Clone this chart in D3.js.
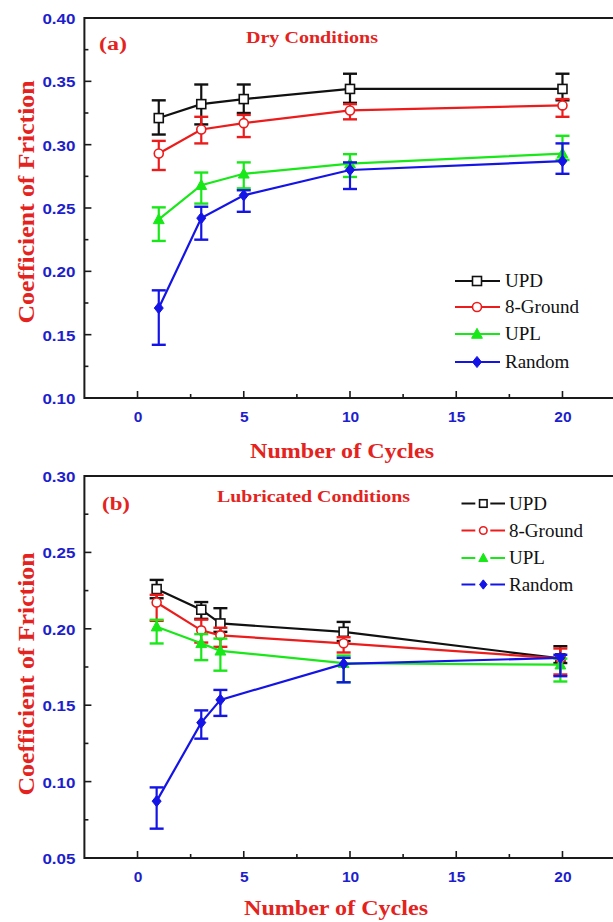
<!DOCTYPE html>
<html><head><meta charset="utf-8">
<script src="https://cdn.jsdelivr.net/npm/d3@7"></script>
<style>body{margin:0;background:#fff}svg{display:block}</style>
</head><body>
<script>
// ---------- data ----------
const seriesNames = ["UPD", "8-Ground", "UPL", "Random"];
const xTicks = [0, 5, 10, 15, 20];

// Panel (a): dry conditions
const cyclesA = [1, 3, 5, 10, 20];
const updA = [0.321, 0.332, 0.336, 0.344, 0.344];
const updAErr = [[0.013, 0.014], [0.016, 0.0155], [0.011, 0.0115], [0.011, 0.012], [0.009, 0.012]];
const groundA = [0.293, 0.312, 0.317, 0.327, 0.331];
const groundAErr = [[0.013, 0.010], [0.011, 0.010], [0.011, 0.0065], [0.007, 0.005], [0.009, 0.005]];
const uplA = [0.241, 0.268, 0.277, 0.285, 0.293];
const uplAErr = [[0.017, 0.0095], [0.0145, 0.010], [0.0115, 0.009], [0.0105, 0.0075], [0.005, 0.014]];
const randomA = [0.171, 0.242, 0.260, 0.280, 0.287];
const randomAErr = [[0.029, 0.014], [0.017, 0.009], [0.013, 0.004], [0.015, 0.006], [0.010, 0.014]];
const yTicksA = [0.10, 0.15, 0.20, 0.25, 0.30, 0.35, 0.40];

// Panel (b): lubricated conditions
const cyclesB = [0.9, 3, 3.9, 9.7, 19.9];
const updB = [0.226, 0.2125, 0.2035, 0.198, 0.1806];
const updBErr = [[0.006, 0.006], [0.006, 0.005], [0.0055, 0.010], [0.006, 0.0065], [0.003, 0.008]];
const groundB = [0.2172, 0.199, 0.1957, 0.1905, 0.1806];
const groundBErr = [[0.012, 0.005], [0.008, 0.007], [0.0075, 0.005], [0.006, 0.004], [0.0105, 0.0065]];
const uplB = [0.2014, 0.1905, 0.1856, 0.1775, 0.1765];
const uplBErr = [[0.011, 0.0045], [0.011, 0.006], [0.013, 0.008], [0.0125, 0.005], [0.011, 0.004]];
const randomB = [0.0872, 0.1386, 0.1535, 0.177, 0.181];
const randomBErr = [[0.018, 0.009], [0.0105, 0.008], [0.0105, 0.0065], [0.012, 0.004], [0.012, 0.002]];
const yTicksB = [0.05, 0.10, 0.15, 0.20, 0.25, 0.30];

// ---------- styles ----------
const colors = {"UPD": "#111111", "8-Ground": "#ec1c1c", "UPL": "#18e818", "Random": "#1414e6"};
const markers = {"UPD": "square", "8-Ground": "circle", "UPL": "triangle", "Random": "diamond"};
const tickBlue = "#1e1ecc";
const titleRed = "#e42320";
const serif = "Liberation Serif, Times New Roman, serif";
const sans = "Liberation Sans, Arial, sans-serif";

const W = 613, H = 922;
const svg = d3.select("body").append("svg").attr("width", W).attr("height", H);

function drawMarker(g, type, cx, cy, color, s) {
  if (type === "square") {
    g.append("rect").attr("x", cx - s/2).attr("y", cy - s/2).attr("width", s).attr("height", s)
      .attr("fill", "#fff").attr("stroke", color).attr("stroke-width", 1.6);
  } else if (type === "circle") {
    g.append("circle").attr("cx", cx).attr("cy", cy).attr("r", s/2)
      .attr("fill", "#fff").attr("stroke", color).attr("stroke-width", 1.6);
  } else if (type === "triangle") {
    const h = s * 1.05;
    g.append("path").attr("d", `M${cx},${cy - h*0.6}L${cx + s*0.6},${cy + h*0.45}L${cx - s*0.6},${cy + h*0.45}Z`)
      .attr("fill", color).attr("stroke", color).attr("stroke-width", 1);
  } else {
    g.append("path").attr("d", `M${cx},${cy - s*0.62}L${cx + s*0.5},${cy}L${cx},${cy + s*0.62}L${cx - s*0.5},${cy}Z`)
      .attr("fill", color).attr("stroke", color).attr("stroke-width", 1);
  }
}

function panel(opt) {
  const x = d3.scaleLinear().domain([-2.5, 22.5]).range([84.4, 615.6]);
  const y = d3.scaleLinear().domain(opt.yDomain).range([opt.bottom, opt.top]);
  const g = svg.append("g");

  // frame
  g.append("path").attr("d", `M${x(22.5)},${opt.top}H${x(-2.5)}V${opt.bottom}H${x(22.5)}`)
    .attr("fill", "none").attr("stroke", "#1a1a1a").attr("stroke-width", 2);

  // x axis ticks (inward)
  const xAxis = d3.axisBottom(x).tickValues(xTicks).tickSize(0).tickFormat(d3.format("d"));
  const xa = g.append("g").attr("transform", `translate(0,${opt.bottom})`).call(xAxis);
  xa.select(".domain").remove();
  xa.selectAll("text").attr("y", 0).attr("dy", "1.55em")
    .style("font-family", sans).style("font-weight", "bold").style("font-size", "15.5px").attr("fill", tickBlue);
  const xMinor = [2.5, 7.5, 12.5, 17.5];
  g.selectAll(null).data(xTicks).enter().append("line")
    .attr("x1", d => x(d)).attr("x2", d => x(d)).attr("y1", opt.bottom).attr("y2", opt.bottom - 7)
    .attr("stroke", "#1a1a1a").attr("stroke-width", 1.6);
  g.selectAll(null).data(xMinor).enter().append("line")
    .attr("x1", d => x(d)).attr("x2", d => x(d)).attr("y1", opt.bottom).attr("y2", opt.bottom - 4)
    .attr("stroke", "#1a1a1a").attr("stroke-width", 1.6);

  // y axis
  const yAxis = d3.axisLeft(y).tickValues(opt.yTicks).tickSize(0).tickFormat(d3.format(".2f"));
  const ya = g.append("g").attr("transform", `translate(84.4,0)`).call(yAxis);
  ya.select(".domain").remove();
  ya.selectAll("text").attr("x", -9).attr("dy", "0.36em")
    .style("font-family", sans).style("font-weight", "bold").style("font-size", "15.5px").attr("fill", tickBlue)
    .attr("textLength", 33).attr("lengthAdjust", "spacingAndGlyphs");
  const yMinor = opt.yTicks.slice(0, -1).map(v => v + 0.025);
  g.selectAll(null).data(opt.yTicks).enter().append("line")
    .attr("x1", 84.4).attr("x2", 84.4 + 7).attr("y1", d => y(d)).attr("y2", d => y(d))
    .attr("stroke", "#1a1a1a").attr("stroke-width", 1.6);
  g.selectAll(null).data(yMinor).enter().append("line")
    .attr("x1", 84.4).attr("x2", 84.4 + 4).attr("y1", d => y(d)).attr("y2", d => y(d))
    .attr("stroke", "#1a1a1a").attr("stroke-width", 1.6);

  // axis titles
  g.append("text").attr("x", opt.xTitleX).attr("y", opt.xTitleY).attr("text-anchor", "middle")
    .style("font-family", serif).style("font-weight", "bold").style("font-size", "21px").attr("fill", titleRed)
    .attr("textLength", 184).attr("lengthAdjust", "spacingAndGlyphs").text("Number of Cycles");
  g.append("text").attr("transform", `translate(${opt.yTitleX},${opt.yTitleY}) rotate(-90)`)
    .attr("text-anchor", "middle").attr("dy", "0.35em")
    .style("font-family", serif).style("font-weight", "bold").style("font-size", "23px").attr("fill", titleRed)
    .attr("textLength", 243).attr("lengthAdjust", "spacingAndGlyphs").text("Coefficient of Friction");

  // panel label and condition title
  g.append("text").attr("x", opt.labelX).attr("y", opt.labelY)
    .style("font-family", serif).style("font-weight", "bold").style("font-size", "18px").attr("fill", titleRed)
    .attr("textLength", 28).attr("lengthAdjust", "spacingAndGlyphs").text(opt.label);
  g.append("text").attr("x", opt.condX).attr("y", opt.condY)
    .style("font-family", serif).style("font-weight", "bold").style("font-size", "16px").attr("fill", titleRed)
    .attr("textLength", opt.condW).attr("lengthAdjust", "spacingAndGlyphs").text(opt.cond);

  // series
  const line = d3.line().x(d => x(d.x)).y(d => y(d.y));
  opt.series.forEach(s => {
    const pts = opt.xs.map((xv, i) => ({x: xv, y: s.values[i], lo: s.values[i] - s.err[i][0], hi: s.values[i] + s.err[i][1]}));
    const c = colors[s.name];
    const sg = g.append("g");
    sg.append("path").datum(pts).attr("d", line).attr("fill", "none").attr("stroke", c).attr("stroke-width", 2.2);
    pts.forEach(p => {
      const px = x(p.x);
      sg.append("line").attr("x1", px).attr("x2", px).attr("y1", y(p.lo)).attr("y2", y(p.hi))
        .attr("stroke", c).attr("stroke-width", 2.2);
      [p.lo, p.hi].forEach(v => sg.append("line").attr("x1", px - 7).attr("x2", px + 7)
        .attr("y1", y(v)).attr("y2", y(v)).attr("stroke", c).attr("stroke-width", 2.4));
    });
    pts.forEach(p => drawMarker(sg, markers[s.name], x(p.x), y(p.y), c, 9));
  });

  // legend
  const L = opt.legend;
  seriesNames.forEach((n, i) => {
    const cy = L.rows[i];
    const c = colors[n];
    const lg = g.append("g");
    if (L.gapped) {
      lg.append("line").attr("x1", L.x0).attr("x2", L.mx - 8).attr("y1", cy).attr("y2", cy).attr("stroke", c).attr("stroke-width", 2);
      lg.append("line").attr("x1", L.mx + 7).attr("x2", L.x1).attr("y1", cy).attr("y2", cy).attr("stroke", c).attr("stroke-width", 2);
    } else {
      lg.append("line").attr("x1", L.x0).attr("x2", L.x1).attr("y1", cy).attr("y2", cy).attr("stroke", c).attr("stroke-width", 2);
    }
    drawMarker(lg, markers[n], L.mx, cy, c, L.ms);
    lg.append("text").attr("x", L.tx).attr("y", cy).attr("dy", "0.34em")
      .style("font-family", serif).style("font-size", "19px").attr("fill", "#111").text(n);
  });
}

panel({
  top: 18, bottom: 398, yDomain: [0.10, 0.40], yTicks: yTicksA, xs: cyclesA,
  series: [
    {name: "UPD", values: updA, err: updAErr},
    {name: "8-Ground", values: groundA, err: groundAErr},
    {name: "UPL", values: uplA, err: uplAErr},
    {name: "Random", values: randomA, err: randomAErr}
  ],
  xTitleX: 342, xTitleY: 458, yTitleX: 26, yTitleY: 202,
  label: "(a)", labelX: 99, labelY: 50, cond: "Dry Conditions", condX: 246, condY: 43, condW: 132,
  legend: {x0: 455, x1: 500, mx: 477, tx: 505, ms: 9, gapped: false, rows: [281, 307, 334, 362]}
});

panel({
  top: 476, bottom: 858, yDomain: [0.05, 0.30], yTicks: yTicksB, xs: cyclesB,
  series: [
    {name: "UPD", values: updB, err: updBErr},
    {name: "8-Ground", values: groundB, err: groundBErr},
    {name: "UPL", values: uplB, err: uplBErr},
    {name: "Random", values: randomB, err: randomBErr}
  ],
  xTitleX: 336, xTitleY: 915, yTitleX: 26, yTitleY: 674,
  label: "(b)", labelX: 102, labelY: 510, cond: "Lubricated Conditions", condX: 217, condY: 502, condW: 193,
  legend: {x0: 461.5, x1: 505, mx: 483.3, tx: 509, ms: 7.5, gapped: true, rows: [503.5, 530.5, 558, 584.5]}
});
</script>
</body></html>
